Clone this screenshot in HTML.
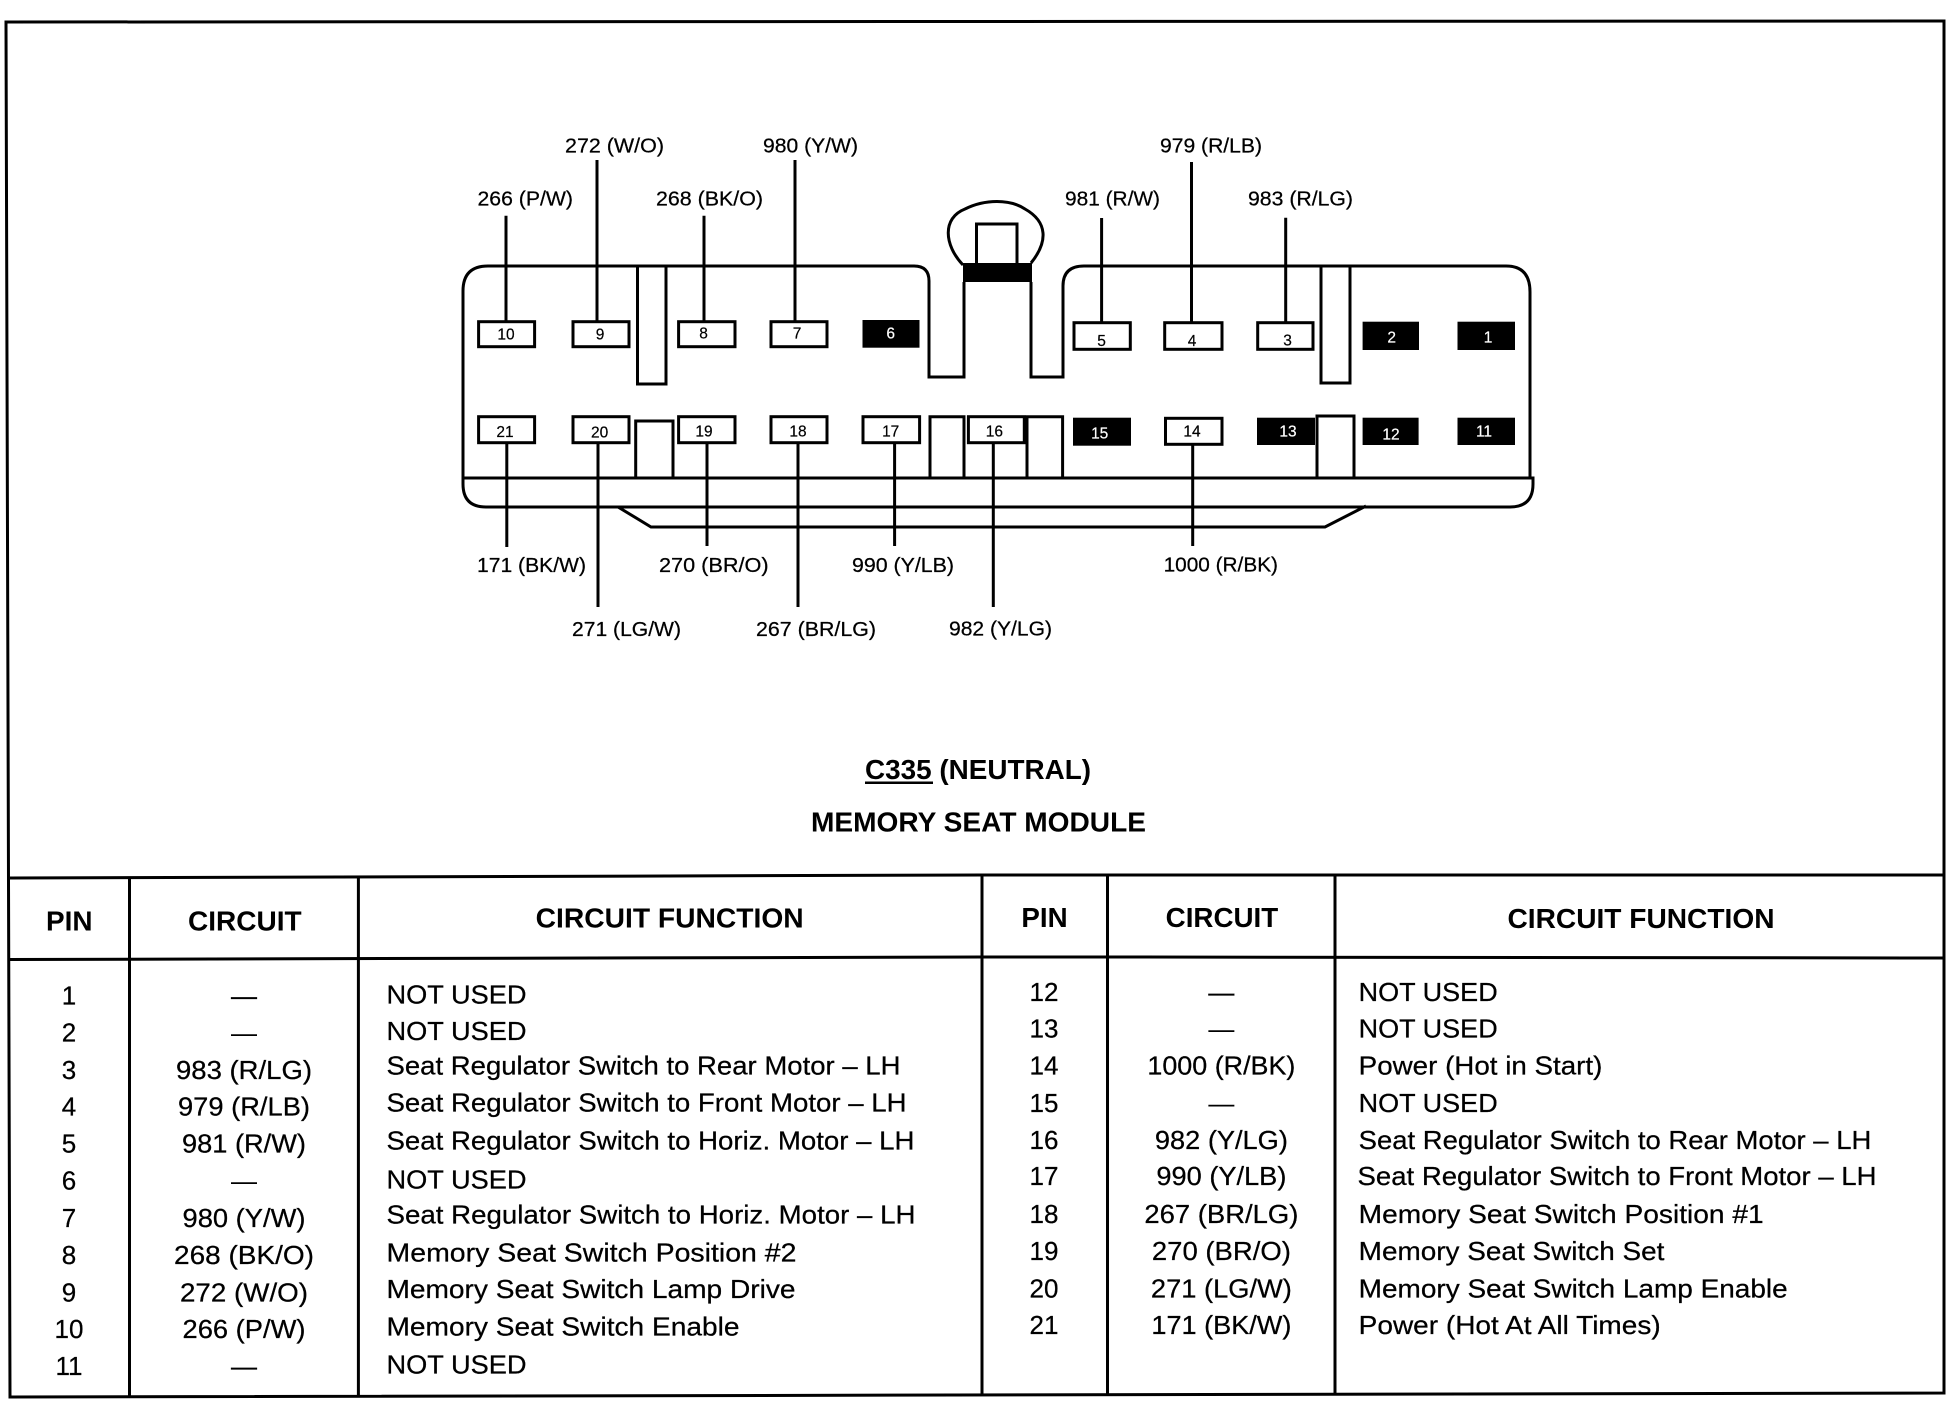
<!DOCTYPE html>
<html><head><meta charset="utf-8"><title>C335 Memory Seat Module</title>
<style>
html,body{margin:0;padding:0;background:#fff}
svg{display:block}
text{font-family:"Liberation Sans",sans-serif;fill:#000}
.l{font-size:20.5px;stroke:#000;stroke-width:.25}
.n{font-size:15.5px;text-anchor:middle;stroke:#000;stroke-width:.2}
.w{font-size:15.5px;text-anchor:middle;fill:#fff;stroke:#fff;stroke-width:.2}
.t{font-size:26px;stroke:#000;stroke-width:.25}
.c{font-size:26px;text-anchor:middle;stroke:#000;stroke-width:.25}
.h{font-size:27.5px;font-weight:bold}
.s{fill:none;stroke:#000;stroke-width:3}
.b{fill:#fff;stroke:#000;stroke-width:3}
</style></head><body>
<svg xmlns="http://www.w3.org/2000/svg" width="1952" height="1408" viewBox="0 0 1952 1408">
<rect width="1952" height="1408" fill="#fff"/>
<!-- frame -->
<path class="s" d="M6 22 L1944 21 L1944 1393 L10 1397 Z"/>
<path class="s" d="M10 878 L982 875 L1944 875"/>
<path class="s" d="M10 959.5 L982 957 L1100 957 L1944 958"/>
<path class="s" d="M129.5 878 V1396 M358.4 877 V1396 M982 875 V1394.5 M1107.5 875 V1394 M1335 875 V1394"/>
<!-- housing -->
<path class="s" d="M463 478 L463 291 Q463 266 488 266 L914 266 Q929 266 929 281 L929 377 L964 377 L964 282"/>
<path class="s" d="M1031 282 L1031 377 L1063 377 L1063 286 Q1063 266 1084 266 L1506 266 Q1530 266 1530 292 L1530 478"/>
<path class="s" d="M463 478 L1533 478 L1533 484 Q1533 507 1510 507 L486 507 Q463 507 463 484 Z"/>
<path class="s" d="M618 507 L651 527 L1325 527 L1366 506"/>
<path class="s" d="M963 265 C944 245 942 218 965 209 C985 199 1010 199 1025 209 C1048 222 1048 242 1031 263"/>
<path class="s" d="M976.5 264 V224 H1017 V264"/>
<rect x="963" y="263" width="69" height="19" fill="#000"/>
<!-- slots -->
<path class="s" d="M637.5 266 V384 H666 V266"/>
<path class="s" d="M1321 266 V383 H1350 V266"/>
<path class="s" d="M635.7 478 V421 H673 V478"/>
<path class="s" d="M930 478 V416.7 H964 V478"/>
<path class="s" d="M1027 478 V416.7 H1062.6 V478"/>
<path class="s" d="M1317 478 V416 H1354 V478"/>
<!-- wires -->
<path class="s" d="M506 215.7 V322 M597 160 V322 M704 215.7 V322 M795 160 V322 M1101.6 218 V323 M1191.5 162 V323 M1285.7 217.7 V323"/>
<path class="s" d="M506.8 443 V547 M598 443 V607 M707 443 V546 M798 443 V607 M894.6 443 V546 M993.3 443 V607 M1192.7 444 V546"/>
<!-- pin boxes top -->
<rect class="b" x="478.6" y="321.7" width="56" height="25"/>
<rect class="b" x="573" y="321.7" width="56" height="25"/>
<rect class="b" x="678.6" y="321.7" width="56.4" height="25"/>
<rect class="b" x="771" y="321.7" width="56" height="25"/>
<rect x="862.5" y="320" width="57" height="27.7" fill="#000"/>
<rect class="b" x="1074" y="322.7" width="56.3" height="26.6"/>
<rect class="b" x="1164.7" y="322.7" width="57.3" height="26.6"/>
<rect class="b" x="1257.7" y="322.7" width="55.3" height="26.6"/>
<rect x="1362.6" y="321.7" width="56.4" height="28.3" fill="#000"/>
<rect x="1457.5" y="321.7" width="57.5" height="28.3" fill="#000"/>
<!-- pin boxes bottom -->
<rect class="b" x="478.6" y="416.7" width="56" height="26"/>
<rect class="b" x="573" y="416.7" width="56" height="26"/>
<rect class="b" x="678.6" y="416.7" width="56.4" height="26"/>
<rect class="b" x="771" y="416.7" width="56" height="26"/>
<rect class="b" x="863" y="416.7" width="56.6" height="26"/>
<rect class="b" x="968.4" y="416.7" width="55.9" height="26"/>
<rect x="1073" y="417.7" width="58" height="28" fill="#000"/>
<rect class="b" x="1165.5" y="418.3" width="56.5" height="26"/>
<rect x="1257" y="417.7" width="58" height="27.3" fill="#000"/>
<rect x="1362.6" y="417.7" width="56" height="27.3" fill="#000"/>
<rect x="1457.5" y="417.7" width="57.5" height="27.3" fill="#000"/>
<!-- pin numbers -->
<text class="n" x="506" y="339.5">10</text>
<text class="n" x="600" y="339.5">9</text>
<text class="n" x="703.6" y="338.5">8</text>
<text class="n" x="797" y="338.5">7</text>
<text class="w" x="890.7" y="338.5">6</text>
<text class="n" x="1101.6" y="346.2">5</text>
<text class="n" x="1192" y="346.2">4</text>
<text class="n" x="1287.6" y="345.5">3</text>
<text class="w" x="1391.7" y="342.5">2</text>
<text class="w" x="1488" y="342.5">1</text>
<text class="n" x="505" y="437.2">21</text>
<text class="n" x="599.6" y="437.5">20</text>
<text class="n" x="704" y="436.5">19</text>
<text class="n" x="798" y="436.5">18</text>
<text class="n" x="890.7" y="436.5">17</text>
<text class="n" x="994.4" y="436.5">16</text>
<text class="w" x="1099.7" y="438.5">15</text>
<text class="n" x="1192" y="436.5">14</text>
<text class="w" x="1288" y="436.5">13</text>
<text class="w" x="1391" y="439.5">12</text>
<text class="w" x="1484" y="436.5">11</text>
<!-- top labels -->
<text class="l" x="565" y="152.6" textLength="99" lengthAdjust="spacingAndGlyphs">272 (W/O)</text>
<text class="l" x="763" y="152.6" textLength="95" lengthAdjust="spacingAndGlyphs">980 (Y/W)</text>
<text class="l" x="477.5" y="205.6" textLength="95.5" lengthAdjust="spacingAndGlyphs">266 (P/W)</text>
<text class="l" x="656" y="205.6" textLength="107" lengthAdjust="spacingAndGlyphs">268 (BK/O)</text>
<text class="l" x="1160" y="152.4" textLength="102" lengthAdjust="spacingAndGlyphs">979 (R/LB)</text>
<text class="l" x="1065" y="205.6" textLength="95" lengthAdjust="spacingAndGlyphs">981 (R/W)</text>
<text class="l" x="1248" y="205.6" textLength="105" lengthAdjust="spacingAndGlyphs">983 (R/LG)</text>
<!-- bottom labels -->
<text class="l" x="477" y="572" textLength="109" lengthAdjust="spacingAndGlyphs">171 (BK/W)</text>
<text class="l" x="659" y="572" textLength="109.6" lengthAdjust="spacingAndGlyphs">270 (BR/O)</text>
<text class="l" x="852" y="572" textLength="102" lengthAdjust="spacingAndGlyphs">990 (Y/LB)</text>
<text class="l" x="1163.6" y="571.4" textLength="114.4" lengthAdjust="spacingAndGlyphs">1000 (R/BK)</text>
<text class="l" x="572" y="636" textLength="109" lengthAdjust="spacingAndGlyphs">271 (LG/W)</text>
<text class="l" x="756" y="636" textLength="120" lengthAdjust="spacingAndGlyphs">267 (BR/LG)</text>
<text class="l" x="949" y="635.4" textLength="103" lengthAdjust="spacingAndGlyphs">982 (Y/LG)</text>
<!-- title -->
<text class="h" x="865" y="779.2" textLength="226" lengthAdjust="spacingAndGlyphs">C335 (NEUTRAL)</text>
<rect x="865" y="781.5" width="68" height="2.5" fill="#000"/>
<text class="h" x="811" y="831.6" textLength="335" lengthAdjust="spacingAndGlyphs">MEMORY SEAT MODULE</text>
<!-- headers -->
<text class="h" x="46" y="930.5" textLength="46.5" lengthAdjust="spacingAndGlyphs">PIN</text>
<text class="h" x="188" y="930.5" textLength="113.6" lengthAdjust="spacingAndGlyphs">CIRCUIT</text>
<text class="h" x="535.7" y="927.6" textLength="268" lengthAdjust="spacingAndGlyphs">CIRCUIT FUNCTION</text>
<text class="h" x="1021.4" y="927" textLength="46.2" lengthAdjust="spacingAndGlyphs">PIN</text>
<text class="h" x="1165.7" y="927" textLength="112.5" lengthAdjust="spacingAndGlyphs">CIRCUIT</text>
<text class="h" x="1507.5" y="928" textLength="267" lengthAdjust="spacingAndGlyphs">CIRCUIT FUNCTION</text>
<!-- left pins -->
<g transform="translate(0,-1)">
<text class="c" x="69" y="1005.4">1</text>
<text class="c" x="69" y="1042.7">2</text>
<text class="c" x="69" y="1080">3</text>
<text class="c" x="69" y="1116.4">4</text>
<text class="c" x="69" y="1153.7">5</text>
<text class="c" x="69" y="1190.7">6</text>
<text class="c" x="69" y="1227.8">7</text>
<text class="c" x="69" y="1265">8</text>
<text class="c" x="69" y="1302.4">9</text>
<text class="c" x="69" y="1338.8">10</text>
<text class="c" x="69" y="1375.8">11</text>
<!-- left circuits -->
<text class="c" x="244" y="1005.4">—</text>
<text class="c" x="244" y="1042.7" style="stroke:none">—</text>
<text class="c" x="244" y="1080" textLength="136" lengthAdjust="spacingAndGlyphs">983 (R/LG)</text>
<text class="c" x="244" y="1116.4" textLength="132" lengthAdjust="spacingAndGlyphs">979 (R/LB)</text>
<text class="c" x="244" y="1153.7" textLength="124" lengthAdjust="spacingAndGlyphs">981 (R/W)</text>
<text class="c" x="244" y="1190.7" style="stroke:none">—</text>
<text class="c" x="244" y="1227.8" textLength="123" lengthAdjust="spacingAndGlyphs">980 (Y/W)</text>
<text class="c" x="244" y="1265" textLength="140" lengthAdjust="spacingAndGlyphs">268 (BK/O)</text>
<text class="c" x="244" y="1302.4" textLength="128" lengthAdjust="spacingAndGlyphs">272 (W/O)</text>
<text class="c" x="244" y="1338.8" textLength="123" lengthAdjust="spacingAndGlyphs">266 (P/W)</text>
<text class="c" x="244" y="1375.8">—</text>
</g>
<!-- left functions -->
<g transform="translate(-0.5,-0.8)">
<text class="t" x="387" y="1004.2" textLength="140" lengthAdjust="spacingAndGlyphs">NOT USED</text>
<text class="t" x="387" y="1040.9" textLength="140" lengthAdjust="spacingAndGlyphs">NOT USED</text>
<text class="t" x="387" y="1075.4" textLength="514" lengthAdjust="spacingAndGlyphs">Seat Regulator Switch to Rear Motor – LH</text>
<text class="t" x="387" y="1112.4" textLength="520" lengthAdjust="spacingAndGlyphs">Seat Regulator Switch to Front Motor – LH</text>
<text class="t" x="387" y="1150.1" textLength="528" lengthAdjust="spacingAndGlyphs">Seat Regulator Switch to Horiz. Motor – LH</text>
<text class="t" x="387" y="1189.4" textLength="140" lengthAdjust="spacingAndGlyphs">NOT USED</text>
<text class="t" x="387" y="1224.2" textLength="529" lengthAdjust="spacingAndGlyphs">Seat Regulator Switch to Horiz. Motor – LH</text>
<text class="t" x="387" y="1262.2" textLength="410" lengthAdjust="spacingAndGlyphs">Memory Seat Switch Position #2</text>
<text class="t" x="387" y="1298.9" textLength="409" lengthAdjust="spacingAndGlyphs">Memory Seat Switch Lamp Drive</text>
<text class="t" x="387" y="1336.4" textLength="353" lengthAdjust="spacingAndGlyphs">Memory Seat Switch Enable</text>
<text class="t" x="387" y="1374.4" textLength="140" lengthAdjust="spacingAndGlyphs">NOT USED</text>
</g>
<!-- right pins -->
<g transform="translate(0,-0.8)">
<text class="c" x="1044" y="1002">12</text>
<text class="c" x="1044" y="1038.5">13</text>
<text class="c" x="1044" y="1075.5">14</text>
<text class="c" x="1044" y="1112.6">15</text>
<text class="c" x="1044" y="1150">16</text>
<text class="c" x="1044" y="1186">17</text>
<text class="c" x="1044" y="1223.8">18</text>
<text class="c" x="1044" y="1261">19</text>
<text class="c" x="1044" y="1298.2">20</text>
<text class="c" x="1044" y="1335">21</text>
<!-- right circuits -->
<text class="c" x="1221.4" y="1002">—</text>
<text class="c" x="1221.4" y="1038.5" style="stroke:none">—</text>
<text class="c" x="1221.4" y="1075.5" textLength="148" lengthAdjust="spacingAndGlyphs">1000 (R/BK)</text>
<text class="c" x="1221.4" y="1112.6" style="stroke:none">—</text>
<text class="c" x="1221.4" y="1150" textLength="133" lengthAdjust="spacingAndGlyphs">982 (Y/LG)</text>
<text class="c" x="1221.4" y="1186" textLength="130" lengthAdjust="spacingAndGlyphs">990 (Y/LB)</text>
<text class="c" x="1221.4" y="1223.8" textLength="154" lengthAdjust="spacingAndGlyphs">267 (BR/LG)</text>
<text class="c" x="1221.4" y="1261" textLength="139" lengthAdjust="spacingAndGlyphs">270 (BR/O)</text>
<text class="c" x="1221.4" y="1298.2" textLength="141" lengthAdjust="spacingAndGlyphs">271 (LG/W)</text>
<text class="c" x="1221.4" y="1335" textLength="140" lengthAdjust="spacingAndGlyphs">171 (BK/W)</text>
<!-- right functions -->
<text class="t" x="1358.7" y="1002" textLength="139" lengthAdjust="spacingAndGlyphs">NOT USED</text>
<text class="t" x="1358.7" y="1038.5" textLength="139" lengthAdjust="spacingAndGlyphs">NOT USED</text>
<text class="t" x="1358.7" y="1075.5" textLength="243.7" lengthAdjust="spacingAndGlyphs">Power (Hot in Start)</text>
<text class="t" x="1358.7" y="1112.6" textLength="139" lengthAdjust="spacingAndGlyphs">NOT USED</text>
<text class="t" x="1358.7" y="1150" textLength="512.6" lengthAdjust="spacingAndGlyphs">Seat Regulator Switch to Rear Motor – LH</text>
<text class="t" x="1357.5" y="1186" textLength="519" lengthAdjust="spacingAndGlyphs">Seat Regulator Switch to Front Motor – LH</text>
<text class="t" x="1358.7" y="1223.8" textLength="405" lengthAdjust="spacingAndGlyphs">Memory Seat Switch Position #1</text>
<text class="t" x="1358.7" y="1261" textLength="305.7" lengthAdjust="spacingAndGlyphs">Memory Seat Switch Set</text>
<text class="t" x="1358.7" y="1298.2" textLength="429" lengthAdjust="spacingAndGlyphs">Memory Seat Switch Lamp Enable</text>
<text class="t" x="1358.7" y="1335" textLength="302" lengthAdjust="spacingAndGlyphs">Power (Hot At All Times)</text>
</g>
</svg>
</body></html>
